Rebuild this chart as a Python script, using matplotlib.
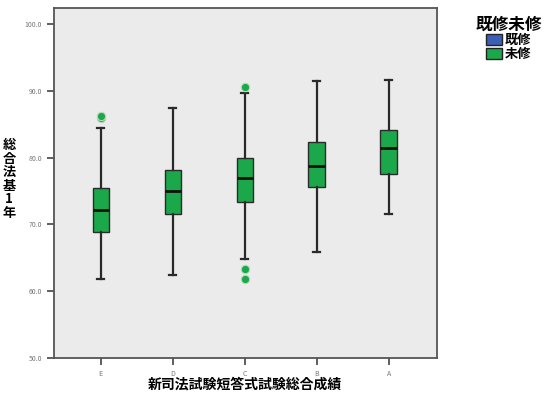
import matplotlib
matplotlib.use("Agg")
import matplotlib.pyplot as plt
from matplotlib.patches import Patch

plt.rcParams['font.family'] = ['Noto Sans CJK JP', 'DejaVu Sans']

categories = ["E", "D", "C", "B", "A"]
whisker_low = [61.9, 62.5, 64.8, 65.9, 71.6]
q1 = [68.9, 71.5, 73.3, 75.6, 77.5]
median = [72.1, 75.0, 77.0, 78.7, 81.5]
q3 = [75.5, 78.1, 80.0, 82.3, 84.1]
whisker_high = [84.4, 87.5, 89.6, 91.5, 91.6]
outliers = [[86.0, 86.3], [], [90.6, 63.3, 61.8], [], []]
yticks = [50.0, 60.0, 70.0, 80.0, 90.0, 100.0]
legend_labels = ["既修", "未修"]
legend_colors = ["#3a5fb4", "#1aa84a"]

fig = plt.figure(figsize=(5.46, 4.01), dpi=100)
fig.patch.set_facecolor("white")
ax = fig.add_axes([54/546, 1 - 358/401, (437-54)/546, (358-8)/401])
ax.set_facecolor("#ebebeb")

stats = []
for i, c in enumerate(categories):
    stats.append(dict(label=c, whislo=whisker_low[i], q1=q1[i], med=median[i],
                      q3=q3[i], whishi=whisker_high[i], fliers=outliers[i]))

positions = list(range(1, len(categories) + 1))
ax.bxp(stats, positions=positions, widths=0.23, patch_artist=True,
       boxprops=dict(facecolor="#1aa84a", edgecolor="#2a2a2a", linewidth=1.0),
       medianprops=dict(color="#111111", linewidth=2.0),
       whiskerprops=dict(color="#2a2a2a", linewidth=1.6),
       capprops=dict(color="#2a2a2a", linewidth=1.6),
       capwidths=0.1,
       flierprops=dict(marker="o", markerfacecolor="#1aa84a", markeredgecolor="#bcd8bc",
                       markersize=6, markeredgewidth=0.8))

ax.set_xlim(0.35, 5.67)
ax.set_ylim(50, 102.4)
ax.set_yticks(yticks)
ax.set_yticklabels([f"{v:.1f}" for v in yticks], fontsize=5, color="#777777")
ax.set_xticks(positions)
ax.set_xticklabels(categories, fontsize=5, color="#777777")
ax.tick_params(axis="both", direction="out", length=5, width=1.2, color="#444444")
for s in ax.spines.values():
    s.set_color("#555555")
    s.set_linewidth(1.3)

fig.text(245/546, 1 - 385/401, "新司法試験短答式試験総合成績", ha="center", va="center",
         fontsize=10, fontweight="bold")
fig.text(9/546, 1 - 179/401, "\n".join("総合法基1年"), ha="center", va="center",
         fontsize=9.5, fontweight="bold", linespacing=0.95)

handles = [Patch(facecolor=c, edgecolor="#222222") for c in legend_colors]
leg = fig.legend(handles, legend_labels, title="既修未修", loc="upper left",
                 bbox_to_anchor=(466/546, 1 - 6/401), frameon=False,
                 fontsize=9.5, title_fontsize=12, handlelength=1.2, handleheight=0.95,
                 handletextpad=0.2, labelspacing=0.0, borderpad=0.2)
leg.get_title().set_fontweight("bold")
for t in leg.get_texts():
    t.set_fontweight("bold")

fig.savefig("out.png", dpi=100)
